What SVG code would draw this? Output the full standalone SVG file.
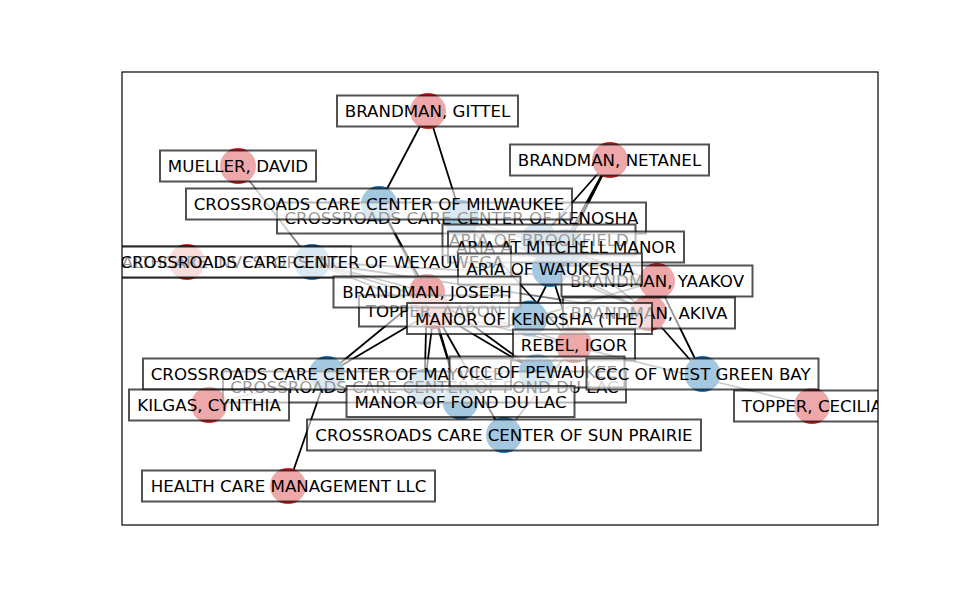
<svg xmlns="http://www.w3.org/2000/svg" width="975" height="600" viewBox="0 0 975 600">
<defs>
<clipPath id="ax"><rect x="122" y="72" width="756" height="453"/></clipPath>
<style>
.e{stroke:#000;stroke-width:1.8;fill:none}
.g{stroke:#000;stroke-opacity:0.5;stroke-width:1.8;fill:none}
.p{fill:#d62728}
.f{fill:#1f77b4}
.box{fill:#fff;fill-opacity:0.6;stroke:#000;stroke-opacity:0.68;stroke-width:2}
.t{font-family:"DejaVu Sans","Liberation Sans",sans-serif;font-size:16.67px;text-anchor:middle;fill:#000}
</style>
</defs>
<rect x="0" y="0" width="975" height="600" fill="#fff"/>
<g clip-path="url(#ax)">
<g id="connectors">
<line class="g" x1="238" y1="166" x2="312" y2="262" stroke-opacity="0.7"/>
<line class="g" x1="434" y1="311" x2="812" y2="406"/>
<line class="g" x1="209" y1="405" x2="327" y2="374"/>
<line class="g" x1="312" y1="262" x2="427" y2="292"/>
<line class="g" x1="312" y1="262" x2="434" y2="311"/>
<line class="g" x1="312" y1="262" x2="657" y2="281"/>
<line class="g" x1="312" y1="262" x2="649" y2="313"/>
<line class="g" x1="312" y1="262" x2="574" y2="345"/>
<line class="g" x1="379" y1="204" x2="434" y2="311"/>
<line class="g" x1="657" y1="281" x2="550" y2="269"/>
<line class="g" x1="657" y1="281" x2="529.5" y2="318.5"/>
<line class="g" x1="657" y1="281" x2="539" y2="240"/>
<line class="g" x1="657" y1="281" x2="461.5" y2="218"/>
<line class="g" x1="649" y1="313" x2="550" y2="269"/>
<line class="g" x1="649" y1="313" x2="566" y2="247"/>
<line class="g" x1="649" y1="313" x2="529.5" y2="318.5"/>
<line class="g" x1="649" y1="313" x2="461.5" y2="218"/>
<line class="g" x1="574" y1="345" x2="504" y2="435"/>
<line class="g" x1="574" y1="345" x2="537" y2="372"/>
<line class="e" x1="428" y1="111" x2="379" y2="204"/>
<line class="e" x1="428" y1="111" x2="461.5" y2="218"/>
<line class="e" x1="610" y1="160" x2="539" y2="240"/>
<line class="e" x1="610" y1="160" x2="566" y2="247"/>
<line class="e" x1="610" y1="160" x2="550" y2="269"/>
<line class="e" x1="610" y1="160" x2="529.5" y2="318.5"/>
<line class="e" x1="427" y1="292" x2="379" y2="204"/>
<line class="e" x1="574" y1="345" x2="461.5" y2="218"/>
<line class="e" x1="574" y1="345" x2="550" y2="269"/>
<line class="e" x1="427" y1="292" x2="327" y2="374"/>
<line class="e" x1="434" y1="311" x2="327" y2="374"/>
<line class="e" x1="288" y1="486" x2="327" y2="374"/>
<line class="e" x1="434" y1="311" x2="537" y2="372"/>
<line class="e" x1="427" y1="292" x2="537" y2="372"/>
<line class="e" x1="427" y1="292" x2="424.5" y2="387"/>
<line class="e" x1="434" y1="311" x2="424.5" y2="387"/>
<line class="e" x1="427" y1="292" x2="460.5" y2="401.5"/>
<line class="e" x1="434" y1="311" x2="460.5" y2="401.5"/>
<line class="e" x1="434" y1="311" x2="504" y2="435"/>
<line class="e" x1="649" y1="313" x2="702.5" y2="374"/>
<line class="e" x1="657" y1="281" x2="702.5" y2="374"/>
</g>
<g id="markers">
<circle id="m-gittel" class="p" cx="428" cy="111" r="18"/>
<circle id="m-mueller" class="p" cx="238" cy="166" r="18"/>
<circle id="m-netanel" class="p" cx="610" cy="160" r="18"/>
<circle id="m-omega" class="p" cx="187" cy="262" r="18"/>
<circle id="m-joseph" class="p" cx="427" cy="292" r="18"/>
<circle id="m-aaron" class="p" cx="434" cy="311" r="18"/>
<circle id="m-yaakov" class="p" cx="657" cy="281" r="18"/>
<circle id="m-akiva" class="p" cx="649" cy="313" r="18"/>
<circle id="m-rebel" class="p" cx="574" cy="345" r="18"/>
<circle id="m-kilgas" class="p" cx="209" cy="405" r="18"/>
<circle id="m-cecilia" class="p" cx="812" cy="406" r="18"/>
<circle id="m-hcm" class="p" cx="288" cy="486" r="18"/>
<circle id="m-mil" class="f" cx="379" cy="204" r="18"/>
<circle id="m-ken" class="f" cx="461.5" cy="218" r="18"/>
<circle id="m-brk" class="f" cx="539" cy="240" r="18"/>
<circle id="m-mit" class="f" cx="566" cy="247" r="18"/>
<circle id="m-wey" class="f" cx="312" cy="262" r="18"/>
<circle id="m-wau" class="f" cx="550" cy="269" r="18"/>
<circle id="m-mk" class="f" cx="529.5" cy="318.5" r="18"/>
<circle id="m-pew" class="f" cx="537" cy="372" r="18"/>
<circle id="m-wgb" class="f" cx="702.5" cy="374" r="18"/>
<circle id="m-may" class="f" cx="327" cy="374" r="18"/>
<circle id="m-fdl" class="f" cx="424.5" cy="387" r="18"/>
<circle id="m-mfd" class="f" cx="460.5" cy="401.5" r="18"/>
<circle id="m-sp" class="f" cx="504" cy="435" r="18"/>
</g>
<g id="node-omega"><rect class="box" x="23" y="246.5" width="328" height="31"/><text class="t" x="187" y="268">OMEGA HEALTHCARE INVESTORS INC</text></g>
<g id="node-kenosha"><rect class="box" x="277" y="202.5" width="369" height="31"/><text class="t" x="461.5" y="224">CROSSROADS CARE CENTER OF KENOSHA</text></g>
<g id="node-milwaukee"><rect class="box" x="186" y="188.5" width="386" height="31"/><text class="t" x="379" y="210">CROSSROADS CARE CENTER OF MILWAUKEE</text></g>
<g id="node-brookfield"><rect class="box" x="442.5" y="224.5" width="193" height="31"/><text class="t" x="539" y="246">ARIA OF BROOKFIELD</text></g>
<g id="node-mitchell"><rect class="box" x="448" y="231.5" width="236" height="31"/><text class="t" x="566" y="253">ARIA AT MITCHELL MANOR</text></g>
<g id="node-weyauwega"><rect class="box" x="113" y="246.5" width="398" height="31"/><text class="t" x="312" y="268">CROSSROADS CARE CENTER OF WEYAUWEGA</text></g>
<g id="node-yaakov"><rect class="box" x="561.5" y="265.5" width="191" height="31"/><text class="t" x="657" y="287">BRANDMAN, YAAKOV</text></g>
<g id="node-waukesha"><rect class="box" x="458" y="253.5" width="184" height="31"/><text class="t" x="550" y="275">ARIA OF WAUKESHA</text></g>
<g id="node-aaron"><rect class="box" x="359" y="295.5" width="150" height="31"/><text class="t" x="434" y="317">TOPPER, AARON</text></g>
<g id="node-akiva"><rect class="box" x="563" y="297.5" width="172" height="31"/><text class="t" x="649" y="319">BRANDMAN, AKIVA</text></g>
<g id="node-joseph"><rect class="box" x="333.5" y="276.5" width="187" height="31"/><text class="t" x="427" y="298">BRANDMAN, JOSEPH</text></g>
<g id="node-manor-kenosha"><rect class="box" x="407" y="303" width="245" height="31"/><text class="t" x="529.5" y="324.5">MANOR OF KENOSHA (THE)</text></g>
<g id="node-rebel"><rect class="box" x="513" y="329.5" width="122" height="31"/><text class="t" x="574" y="351">REBEL, IGOR</text></g>
<g id="node-fond-du-lac"><rect class="box" x="223" y="371.5" width="403" height="31"/><text class="t" x="424.5" y="393">CROSSROADS CARE CENTER OF FOND DU LAC</text></g>
<g id="node-mayville"><rect class="box" x="143" y="358.5" width="368" height="31"/><text class="t" x="327" y="380">CROSSROADS CARE CENTER OF MAYVILLE</text></g>
<g id="node-pewaukee"><rect class="box" x="449.5" y="356.5" width="175" height="31"/><text class="t" x="537" y="378">CCC OF PEWAUKEE</text></g>
<g id="node-west-green-bay"><rect class="box" x="586.5" y="358.5" width="232" height="31"/><text class="t" x="702.5" y="380">CCC OF WEST GREEN BAY</text></g>
<g id="node-kilgas"><rect class="box" x="129" y="389.5" width="160" height="31"/><text class="t" x="209" y="411">KILGAS, CYNTHIA</text></g>
<g id="node-manor-fdl"><rect class="box" x="346.5" y="386" width="228" height="31"/><text class="t" x="460.5" y="407.5">MANOR OF FOND DU LAC</text></g>
<g id="node-sun-prairie"><rect class="box" x="307" y="419.5" width="394" height="31"/><text class="t" x="504" y="441">CROSSROADS CARE CENTER OF SUN PRAIRIE</text></g>
<g id="node-hcm"><rect class="box" x="142" y="470.5" width="293" height="31"/><text class="t" x="288.5" y="492">HEALTH CARE MANAGEMENT LLC</text></g>
<g id="node-gittel"><rect class="box" x="337" y="95.5" width="181" height="31"/><text class="t" x="427.5" y="117">BRANDMAN, GITTEL</text></g>
<g id="node-mueller"><rect class="box" x="160" y="150.5" width="156" height="31"/><text class="t" x="238" y="172">MUELLER, DAVID</text></g>
<g id="node-netanel"><rect class="box" x="510" y="144.5" width="199" height="31"/><text class="t" x="609.5" y="166">BRANDMAN, NETANEL</text></g>
<g id="node-cecilia"><rect class="box" x="734" y="390.5" width="156" height="31"/><text class="t" x="812" y="412">TOPPER, CECILIA</text></g>
</g>
<rect x="122" y="72" width="756" height="453" fill="none" stroke="#000" stroke-width="1.2"/>
</svg>
